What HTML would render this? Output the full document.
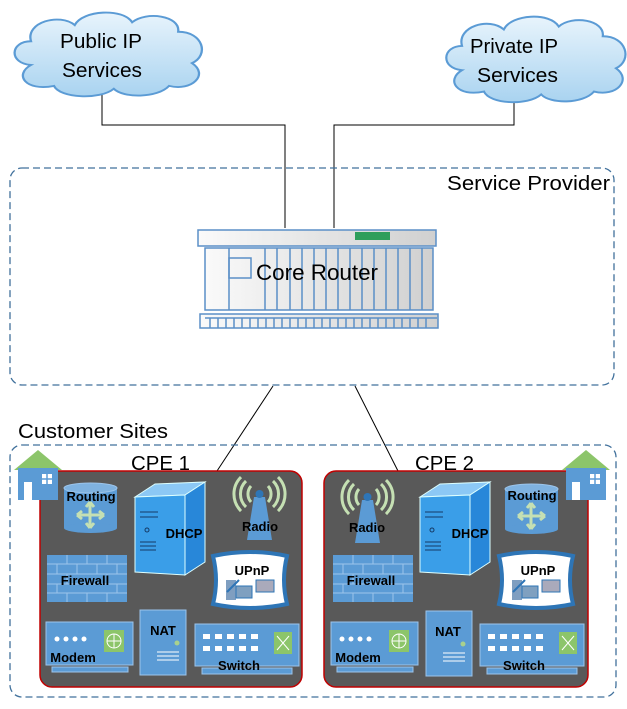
<!DOCTYPE html>
<html><head><meta charset="utf-8"><style>
html,body{margin:0;padding:0;background:#fff}
svg{display:block}
text{font-family:"Liberation Sans",sans-serif}
.b{font-weight:bold;font-size:13px;fill:#000}
</style></head><body>
<svg width="627" height="709" viewBox="0 0 627 709" xmlns="http://www.w3.org/2000/svg">
<defs>
<linearGradient id="cl" x1="0" y1="0" x2="0" y2="1"><stop offset="0" stop-color="#e8f4fc"/><stop offset="1" stop-color="#a9d3f0"/></linearGradient>
<linearGradient id="rt" x1="0" y1="0" x2="1" y2="0"><stop offset="0" stop-color="#fafafa"/><stop offset="1" stop-color="#d0d0d0"/></linearGradient>
<g id="cloud">
<path d="M20,60 C0,58 2,35 20,35 C15,15 45,5 58,18 C65,2 100,0 108,15 C120,3 150,8 148,25 C170,25 175,50 160,58 C175,70 160,88 140,82 C130,95 100,95 92,85 C80,97 45,95 40,82 C15,88 5,70 20,60 Z" fill="url(#cl)" stroke="#5b9bd5" stroke-width="2"/>
</g>
<g id="house">
<polygon points="0,20 24,0 48,20" fill="#8cc56a"/>
<rect x="4" y="18" width="40" height="32" fill="#5b9bd5"/>
<rect x="10" y="32" width="8" height="18" fill="#fff"/>
<rect x="28" y="24" width="10" height="10" fill="#fff"/>
<path d="M33,24V34M28,29H38" stroke="#5b9bd5" stroke-width="1.5"/>
</g>
<g id="routing">
<rect x="0" y="6" width="53" height="40" fill="#5b9bd5"/>
<ellipse cx="26.5" cy="46" rx="26.5" ry="5" fill="#5b9bd5"/>
<ellipse cx="26.5" cy="6" rx="26.5" ry="5" fill="#7fb2e0" stroke="#9cc4ea"/>
<path d="M26,20v26M13,33h27M26,20l-4,5M26,20l4,5M26,46l-4,-5M26,46l4,-5M13,33l5,-4M13,33l5,4M40,33l-5,-4M40,33l-5,4" stroke="#c5e0b3" stroke-width="3" fill="none"/>
</g>
<g id="dhcp">
<polygon points="0,15 20,2 70,0 50,13" fill="#8cc8f5" stroke="#dff" stroke-width="1"/>
<polygon points="0,15 50,13 50,93 0,90" fill="#3a9ee8" stroke="#dff"/>
<polygon points="50,13 70,0 70,80 50,93" fill="#2887d9" stroke="#dff"/>
<path d="M5,30h18M5,35h18M5,60h16M5,64h16M5,68h16" stroke="#153a66" stroke-width="1"/>
<circle cx="12" cy="48" r="2" fill="none" stroke="#153a66"/>
</g>
<g id="radio">
<path d="M17,20L10,63H35L28,20Z" fill="#5b9bd5"/>
<circle cx="22.5" cy="17" r="4" fill="#2e75b6"/>
<path d="M14,9A12,12 0 0 0 14,25M31,9A12,12 0 0 1 31,25M9,4A18,18 0 0 0 9,30M36,4A18,18 0 0 1 36,30M4,0A24,24 0 0 0 4,34M41,0A24,24 0 0 1 41,34" stroke="#c5e0b3" stroke-width="3" fill="none"/>
</g>
<g id="fw">
<rect x="0" y="0" width="80" height="47" fill="#5b9bd5"/>
<path d="M0,9h80M0,19h80M0,29h80M0,38h80M20,0v9M40,0v9M60,0v9M10,9v10M30,9v10M50,9v10M70,9v10M20,19v10M60,19v10M10,29v9M70,29v9M20,38v9M40,38v9M60,38v9" stroke="#9cc4ea" stroke-width="1"/>
</g>
<g id="upnp">
<path d="M2,4 Q39,-4 76,4 Q70,28 76,52 Q39,60 2,52 Q8,28 2,4Z" fill="#fff" stroke="#2e75b6" stroke-width="4"/>
<rect x="15" y="28" width="10" height="20" fill="#7f9ec0"/>
<rect x="25" y="34" width="16" height="12" fill="#7fa0c0" stroke="#2e75b6"/>
<rect x="45" y="28" width="18" height="12" fill="#aab" stroke="#2e75b6"/>
<path d="M16,40L28,28" stroke="#2e75b6" stroke-width="2"/>
</g>
<g id="modem">
<rect x="0" y="0" width="87" height="43" fill="#5b9bd5" stroke="#9cc4ea"/>
<rect x="6" y="45" width="76" height="5" fill="#5b9bd5" stroke="#9cc4ea"/>
<circle cx="11" cy="17" r="2.5" fill="#fff"/><circle cx="20" cy="17" r="2.5" fill="#fff"/><circle cx="29" cy="17" r="2.5" fill="#fff"/><circle cx="38" cy="17" r="2.5" fill="#fff"/>
<rect x="58" y="8" width="20" height="22" fill="#8cc56a"/>
<circle cx="68" cy="19" r="7" fill="none" stroke="#fff"/>
<path d="M61,19h14M68,12v14" stroke="#fff"/>
</g>
<g id="nat">
<rect x="0" y="0" width="46" height="65" fill="#5b9bd5" stroke="#9cc4ea"/>
<circle cx="37" cy="33" r="2.5" fill="#a9d18e"/>
<path d="M17,42h22M17,46h22M17,50h22" stroke="#fff"/>
</g>
<g id="switch">
<rect x="0" y="0" width="104" height="42" fill="#5b9bd5" stroke="#9cc4ea"/>
<rect x="7" y="44" width="90" height="6" fill="#5b9bd5" stroke="#9cc4ea"/>
<g fill="#fff"><rect x="8" y="10" width="7" height="5"/><rect x="20" y="10" width="7" height="5"/><rect x="32" y="10" width="7" height="5"/><rect x="44" y="10" width="7" height="5"/><rect x="56" y="10" width="7" height="5"/>
<rect x="8" y="22" width="7" height="5"/><rect x="20" y="22" width="7" height="5"/><rect x="32" y="22" width="7" height="5"/><rect x="44" y="22" width="7" height="5"/><rect x="56" y="22" width="7" height="5"/></g>
<rect x="79" y="8" width="18" height="22" fill="#8cc56a"/>
<path d="M82,12l12,14M94,12l-12,14" stroke="#fff"/>
</g>
</defs>

<path d="M102,95V125H285V228" stroke="#000" fill="none"/>
<path d="M514,100V125H334V228" stroke="#000" fill="none"/>
<path d="M273,386L217,471M355,386L398,471" stroke="#000" fill="none"/>

<use href="#cloud" transform="translate(8,8) scale(1.15,0.95)"/>
<text x="60" y="48" font-size="20" textLength="82" lengthAdjust="spacingAndGlyphs">Public IP</text>
<text x="62" y="77" font-size="20" textLength="80" lengthAdjust="spacingAndGlyphs">Services</text>
<use href="#cloud" transform="translate(440,12) scale(1.1,0.97)"/>
<text x="470" y="53" font-size="20" textLength="88" lengthAdjust="spacingAndGlyphs">Private IP</text>
<text x="477" y="82" font-size="20" textLength="81" lengthAdjust="spacingAndGlyphs">Services</text>

<rect x="10" y="168" width="604" height="217" rx="12" fill="none" stroke="#41719c" stroke-width="1.3" stroke-dasharray="7,4"/>
<text x="447" y="190" font-size="20" textLength="163" lengthAdjust="spacingAndGlyphs">Service Provider</text>

<g stroke="#5b8fc7" stroke-width="1.5">
<rect x="205" y="248" width="228" height="62" fill="url(#rt)"/>
<rect x="198" y="230" width="238" height="16" fill="url(#rt)"/>
<rect x="200" y="314" width="238" height="14" fill="url(#rt)"/>
<rect x="229" y="258" width="22" height="20" fill="none"/>
<path d="M229,248v62M265,248v62M277,248v62M290,248v62M302,248v62M314,248v62M326,248v62M338,248v62M350,248v62M362,248v62M374,248v62M386,248v62M398,248v62M410,248v62M422,248v62M205,318h232M210,318v10M218,318v10M226,318v10M234,318v10M242,318v10M250,318v10M258,318v10M266,318v10M274,318v10M282,318v10M290,318v10M298,318v10M306,318v10M314,318v10M322,318v10M330,318v10M338,318v10M346,318v10M354,318v10M362,318v10M370,318v10M378,318v10M386,318v10M394,318v10M402,318v10M410,318v10M418,318v10M426,318v10" fill="none"/>
</g>
<rect x="355" y="232" width="35" height="8" fill="#2e9e5b"/>
<text x="256" y="280" font-size="22" textLength="122" lengthAdjust="spacingAndGlyphs">Core Router</text>

<text x="18" y="438" font-size="20" textLength="150" lengthAdjust="spacingAndGlyphs">Customer Sites</text>
<rect x="10" y="445" width="606" height="252" rx="12" fill="none" stroke="#41719c" stroke-width="1.3" stroke-dasharray="7,4"/>

<rect x="40" y="471" width="262" height="216" rx="12" fill="#595959" stroke="#c00000" stroke-width="1.5"/>
<rect x="324" y="471" width="264" height="216" rx="12" fill="#595959" stroke="#c00000" stroke-width="1.5"/>
<text x="131" y="470" font-size="20" textLength="59" lengthAdjust="spacingAndGlyphs">CPE 1</text>
<text x="415" y="470" font-size="20" textLength="59" lengthAdjust="spacingAndGlyphs">CPE 2</text>

<use href="#house" transform="translate(14,450)"/>
<use href="#house" transform="translate(562,450)"/>

<use href="#routing" transform="translate(64,482)"/><text class="b" x="91" y="501" text-anchor="middle">Routing</text>
<use href="#dhcp" transform="translate(135,482)"/><text class="b" x="184" y="538" text-anchor="middle">DHCP</text>
<use href="#radio" transform="translate(237,477)"/><text class="b" x="260" y="531" text-anchor="middle">Radio</text>
<use href="#fw" transform="translate(47,555)"/><text class="b" x="85" y="585" text-anchor="middle">Firewall</text>
<use href="#upnp" transform="translate(211,552)"/><text class="b" x="252" y="575" text-anchor="middle">UPnP</text>
<use href="#modem" transform="translate(46,622)"/><text class="b" x="73" y="662" text-anchor="middle">Modem</text>
<use href="#nat" transform="translate(140,610)"/><text class="b" x="163" y="635" text-anchor="middle">NAT</text>
<use href="#switch" transform="translate(195,624)"/><text class="b" x="239" y="670" text-anchor="middle">Switch</text>

<use href="#radio" transform="translate(345,480)"/><text class="b" x="367" y="532" text-anchor="middle">Radio</text>
<use href="#dhcp" transform="translate(420,482)"/><text class="b" x="470" y="538" text-anchor="middle">DHCP</text>
<use href="#routing" transform="translate(505,483)"/><text class="b" x="532" y="500" text-anchor="middle">Routing</text>
<use href="#fw" transform="translate(333,555)"/><text class="b" x="371" y="585" text-anchor="middle">Firewall</text>
<use href="#upnp" transform="translate(497,552)"/><text class="b" x="538" y="575" text-anchor="middle">UPnP</text>
<use href="#modem" transform="translate(331,622)"/><text class="b" x="358" y="662" text-anchor="middle">Modem</text>
<use href="#nat" transform="translate(426,611)"/><text class="b" x="448" y="636" text-anchor="middle">NAT</text>
<use href="#switch" transform="translate(480,624)"/><text class="b" x="524" y="670" text-anchor="middle">Switch</text>
</svg>
</body></html>
